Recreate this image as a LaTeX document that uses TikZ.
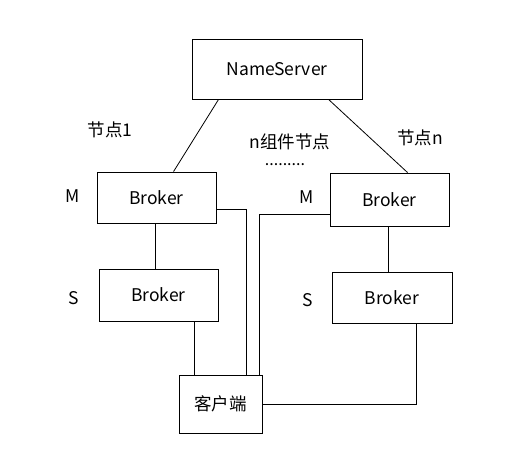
\documentclass[tikz,border=0pt]{standalone}
\usepackage{fontspec}
\setmainfont{Noto Sans CJK SC}
\begin{document}
\begin{tikzpicture}[x=1pt,y=-1pt,
  box/.style={draw,line width=0.9pt,inner sep=0pt,font=\fontsize{17.5}{20}\selectfont},
  lbl/.style={inner sep=0pt,font=\fontsize{17.5}{20}\selectfont},
  conn/.style={line width=0.8pt}]
\useasboundingbox (0,0) rectangle (527,474);
\node[box,minimum width=170pt,minimum height=60pt] (ns) at (277,69) {NameServer};
\node[box,minimum width=119pt,minimum height=51pt] (b1m) at (156.5,197.5) {Broker};
\node[box,minimum width=119pt,minimum height=52pt] (b1s) at (158.5,295) {Broker};
\node[box,minimum width=119pt,minimum height=53pt] (bnm) at (389.5,199.5) {Broker};
\node[box,minimum width=120pt,minimum height=51pt] (bns) at (392,297.5) {Broker};
\node[box,minimum width=83pt,minimum height=58pt] (cl) at (220.5,404) {客户端};
\node[lbl] (l1) at (110,130) {节点1};
\node[lbl] (ln) at (420,138) {节点n};
\node[lbl] (lmid) at (290,142) {n组件节点};
\node[inner sep=0pt,font=\fontsize{16}{19}\selectfont] (dots) at (285,165) {.........};
\node[lbl] (m1) at (73,196) {M};
\node[lbl] (m2) at (307,197) {M};
\node[lbl] (s1) at (74,298) {S};
\node[lbl] (s2) at (308,300) {S};
\draw[conn] ([xshift=27pt]ns.south west) -- ([xshift=77pt]b1m.north west);
\draw[conn] ([xshift=137pt]ns.south west) -- ([xshift=78pt]bnm.north west);
\draw[conn] ([xshift=-1.5pt]b1m.south) -- ([xshift=-1.5pt]b1m.south |- b1s.north);
\draw[conn] ([xshift=-1.5pt]bnm.south) -- ([xshift=-1.5pt]bnm.south |- bns.north);
\draw[conn] ([yshift=-11.5pt]b1m.east) -| ([xshift=25.5pt]cl.north);
\draw[conn] ([yshift=-14.5pt]bnm.west) -| ([xshift=38.5pt]cl.north);
\draw[conn] ([xshift=35.5pt]b1s.south) -- ([xshift=-26.5pt]cl.north);
\draw[conn] (cl.east) -| ([xshift=24pt]bns.south);
\end{tikzpicture}
\end{document}
